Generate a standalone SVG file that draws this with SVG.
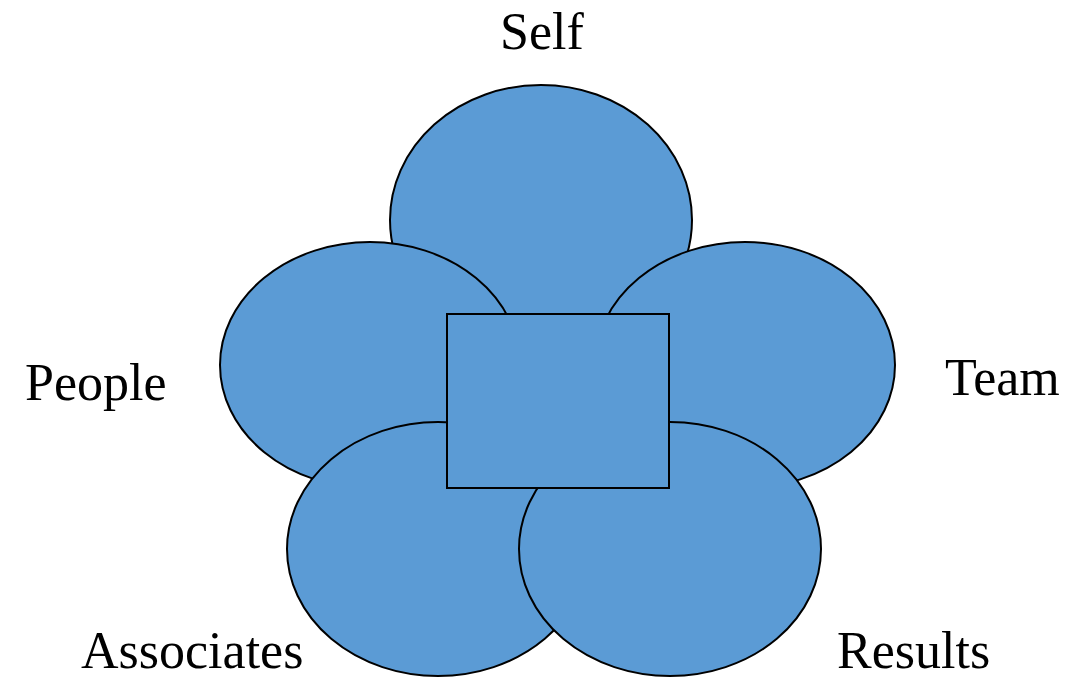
<svg xmlns="http://www.w3.org/2000/svg" width="1077" height="680" viewBox="0 0 1077 680">
<style>
.s{fill:#5B9BD5;stroke:#000;stroke-width:2}
.t{font-family:"Liberation Serif","Times New Roman",serif;font-size:52px;fill:#000}
</style>
<rect width="1077" height="680" fill="#fff"/>
<g id="self"><ellipse class="s" cx="541" cy="220" rx="151" ry="135"/></g>
<g id="people"><ellipse class="s" cx="370" cy="365" rx="150" ry="123"/></g>
<g id="team"><ellipse class="s" cx="745" cy="365" rx="150" ry="123"/></g>
<g id="associates"><ellipse class="s" cx="438" cy="549" rx="151" ry="127"/></g>
<g id="results"><ellipse class="s" cx="670" cy="549" rx="151" ry="127"/></g>
<g id="center"><rect class="s" x="447" y="314" width="222" height="174"/></g>
<g id="labels">
<text class="t" x="500" y="49">Self</text>
<text class="t" x="25" y="400">People</text>
<text class="t" x="945" y="395">Team</text>
<text class="t" x="81" y="668">Associates</text>
<text class="t" x="837" y="668">Results</text>
</g>
<g id="connectors"/>
</svg>
